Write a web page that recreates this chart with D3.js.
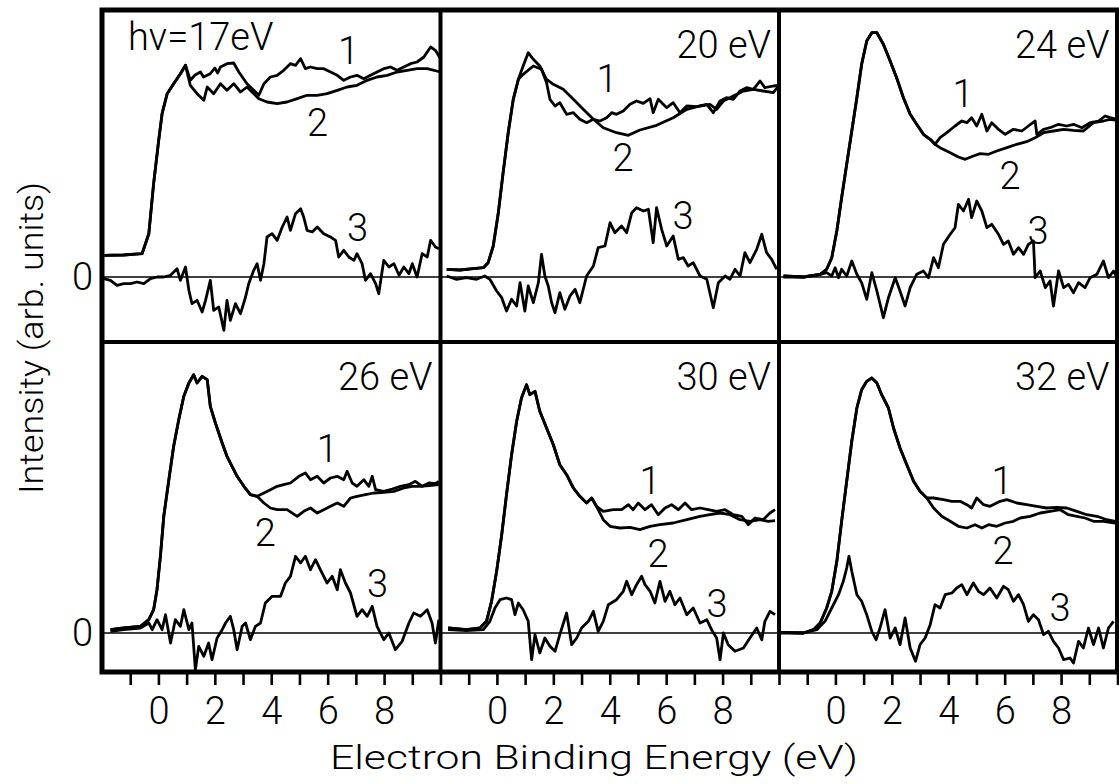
<!DOCTYPE html>
<html>
<head>
<meta charset="utf-8">
<script src="https://cdn.jsdelivr.net/npm/d3@7"></script>
<style>
  body { margin: 0; background: #fff; }
  svg text { font-family: Roboto, 'DejaVu Sans', sans-serif; font-weight: 300; fill: #000; }
</style>
</head>
<body>
<svg id="chart" width="1119" height="784"></svg>
<script>
// photon energies of the six panels
var panelTitles = ['h\u03bd=17eV', '20 eV', '24 eV', '26 eV', '30 eV', '32 eV'];

// x axis: electron binding energy (eV)
var tickEnergies = [-1, 0, 1, 2, 3, 4, 5, 6, 7, 8, 9, 10];
var tickLabels = [0, 2, 4, 6, 8];

// spectra: [binding energy, intensity], curve 1 / 2 share the onset part
var rise17 = [[-1.94,2.17],[-1.23,2.2],[-0.58,2.33],[-0.34,4.33],[-0.17,9.33],[0.01,13.67],[0.13,16.33],[0.31,18.33],[0.54,19.33],[0.78,20.33],[0.96,21.17]];
var s17_1 = rise17.concat([[1.13,19.67],[1.3,20.2],[1.49,20.5],[1.6,20.0],[1.84,20.33],[2.0,20.9],[2.1,20.4],[2.2,21.0],[2.43,21.33],[2.67,21.4],[2.85,20.5],[3.14,19.33],[3.38,18.67],[3.56,18.17],[3.74,19.33],[3.97,20.0],[4.21,20.17],[4.44,20.67],[4.68,21.33],[4.86,21.17],[5.04,21.83],[5.21,20.83],[5.39,21.0],[5.63,20.83],[5.86,20.83],[6.1,20.5],[6.34,20.17],[6.57,19.67],[6.81,20.0],[7.04,20.17],[7.28,19.83],[7.52,20.17],[7.75,20.5],[7.99,20.83],[8.23,21.0],[8.46,20.67],[8.7,21.0],[8.94,21.33],[9.17,21.5],[9.41,22.0],[9.65,23.0],[9.82,22.67],[10.0,21.83]]);
var s17_2 = rise17.concat([[1.13,19.17],[1.37,18.33],[1.61,17.67],[1.73,19.0],[1.96,18.33],[2.2,19.33],[2.43,18.67],[2.67,19.33],[2.91,18.5],[3.14,19.0],[3.38,18.33],[3.56,17.83],[3.85,17.5],[4.21,17.33],[4.56,17.5],[4.92,17.83],[5.27,18.17],[5.63,18.17],[5.98,18.33],[6.34,18.67],[6.69,19.0],[7.04,19.17],[7.4,19.67],[7.75,20.0],[8.11,20.17],[8.46,20.5],[8.82,20.67],[9.17,20.83],[9.53,20.83],[10.0,20.5]]);
var s17_3 = [[-1.94,-0.17],[-1.7,-0.33],[-1.47,-0.83],[-1.23,-0.67],[-0.99,-0.67],[-0.76,-0.5],[-0.52,-0.67],[-0.28,-0.17],[-0.05,0],[0.19,0],[0.43,0.17],[0.66,0.83],[0.78,-0.33],[0.96,1.0],[1.08,-1.33],[1.19,-2.67],[1.37,-2.33],[1.55,-3.5],[1.67,-2.33],[1.84,-0.33],[1.96,-3.33],[2.14,-3.0],[2.32,-5.33],[2.43,-2.33],[2.55,-4.33],[2.73,-2.67],[2.91,-3.67],[3.09,-2.0],[3.2,-0.67],[3.38,0.67],[3.5,1.33],[3.62,-0.33],[3.74,1.33],[3.85,4.0],[4.03,4.33],[4.21,3.67],[4.39,5.0],[4.56,6.0],[4.68,4.67],[4.86,6.33],[5.04,6.83],[5.15,6.0],[5.27,4.67],[5.45,4.5],[5.63,5.0],[5.86,4.33],[6.1,4.0],[6.28,3.67],[6.39,2.0],[6.57,2.67],[6.75,2.0],[6.93,1.67],[7.04,2.33],[7.22,1.33],[7.34,-0.33],[7.52,0.33],[7.7,-0.67],[7.81,-1.67],[7.99,1.67],[8.17,1.0],[8.35,1.33],[8.53,0.17],[8.7,1.0],[8.88,0.33],[9.0,1.33],[9.17,0],[9.35,2.33],[9.53,2.0],[9.65,3.67],[9.82,3.0],[9.94,2.83]];

var rise20 = [[-1.78,0.77],[-1.31,0.7],[-0.84,0.83],[-0.48,0.93],[-0.31,1.43],[-0.13,3.1],[0.05,6.43],[0.22,10.43],[0.4,14.43],[0.58,17.77],[0.76,19.77]];
var s20_1 = rise20.concat([[0.93,20.27],[1.29,21.1],[1.58,20.77],[1.76,19.43],[1.88,17.77],[2.06,17.1],[2.23,17.43],[2.47,16.27],[2.71,16.43],[2.94,15.77],[3.18,15.43],[3.42,15.77],[3.65,15.6],[3.89,15.93],[4.07,16.43],[4.24,16.27],[4.48,16.6],[4.72,17.27],[4.95,17.6],[5.19,17.37],[5.43,17.83],[5.54,16.43],[5.72,17.77],[6.02,16.93],[6.25,17.43],[6.49,16.43],[6.73,17.1],[7.08,17.03],[7.44,17.27],[7.67,16.43],[7.91,17.6],[8.14,17.93],[8.38,17.77],[8.62,18.6],[8.85,18.93],[9.09,18.77],[9.33,19.6],[9.5,18.93],[9.8,19.1],[9.98,19.17]]);
var s20_2 = rise20.concat([[0.93,21.1],[1.11,22.43],[1.29,21.77],[1.52,21.1],[1.76,19.77],[2.0,19.27],[2.35,18.77],[2.71,17.77],[3.06,16.77],[3.42,15.77],[3.77,14.93],[4.24,14.43],[4.66,14.17],[5.07,14.7],[5.66,15.17],[6.25,15.93],[6.73,16.77],[7.2,17.1],[7.55,17.27],[7.79,16.77],[8.03,17.6],[8.38,18.1],[8.74,18.6],[9.09,18.77],[9.44,18.6],[9.8,18.43],[9.98,19.1]]);
var s20_3 = [[-1.78,0.1],[-1.43,-0.23],[-1.08,-0.07],[-0.72,-0.23],[-0.43,0.1],[-0.25,-0.23],[-0.01,-1.4],[0.17,-2.07],[0.34,-3.4],[0.52,-2.23],[0.7,-2.9],[0.82,-0.57],[0.99,-3.4],[1.11,-0.9],[1.29,-2.57],[1.47,-0.57],[1.58,2.27],[1.7,0.1],[1.82,-0.9],[1.94,-2.57],[2.06,-3.57],[2.23,-1.57],[2.41,-3.23],[2.59,-1.9],[2.77,-1.23],[2.94,-2.57],[3.18,0.1],[3.42,1.1],[3.59,2.93],[3.83,3.1],[4.01,5.43],[4.18,4.43],[4.42,5.1],[4.6,4.43],[4.78,6.43],[4.95,6.93],[5.19,6.6],[5.37,6.77],[5.54,3.43],[5.66,6.93],[5.84,4.77],[6.02,3.1],[6.25,4.1],[6.43,1.77],[6.61,1.93],[6.78,1.1],[6.96,1.43],[7.2,0.1],[7.44,-0.23],[7.67,-3.07],[7.85,-0.57],[8.09,0.1],[8.26,-0.23],[8.44,0.77],[8.62,0.1],[8.79,2.43],[8.97,1.43],[9.21,2.77],[9.39,4.27],[9.56,2.43],[9.74,1.77],[9.92,0.77]];

var rise24 = [[-1.84,0.1],[-1.13,0],[-0.54,0.27],[-0.31,0.77],[-0.13,1.93],[0.05,4.6],[0.22,7.93],[0.4,11.27],[0.58,14.6],[0.76,17.93],[0.93,21.27],[1.11,23.6],[1.29,24.43],[1.47,24.43],[1.7,23.27],[1.94,21.6],[2.17,19.93],[2.41,17.93],[2.65,16.27],[2.88,15.27],[3.12,14.27],[3.36,13.77],[3.53,13.27]];
var s24_1 = rise24.concat([[3.71,13.93],[3.95,14.43],[4.24,15.1],[4.48,15.6],[4.66,15.43],[4.83,15.93],[5.01,15.1],[5.19,16.27],[5.37,14.6],[5.54,15.43],[5.78,14.77],[6.02,14.27],[6.31,14.77],[6.61,14.6],[6.84,15.1],[7.08,15.6],[7.14,14.27],[7.38,14.77],[7.61,14.93],[7.91,15.27],[8.2,15.1],[8.44,15.27],[8.74,14.93],[9.03,15.43],[9.33,15.6],[9.56,16.1],[9.74,15.93],[9.98,15.77]]);
var s24_2 = rise24.concat([[3.71,12.93],[4.07,12.43],[4.36,12.0],[4.6,11.77],[4.89,12.1],[5.13,12.33],[5.43,12.27],[5.72,12.6],[6.08,12.93],[6.43,13.27],[6.78,13.53],[7.08,13.93],[7.38,14.43],[7.73,14.6],[8.09,14.77],[8.44,14.67],[8.79,14.6],[9.15,15.43],[9.5,15.6],[9.74,15.77],[9.98,15.67]]);
var s24_3 = [[-1.84,0],[-1.13,0],[-0.54,0.27],[-0.31,0.43],[-0.13,0.1],[-0.01,0.93],[0.11,-0.07],[0.22,0.77],[0.4,0.1],[0.58,1.6],[0.76,0.27],[0.93,-0.57],[1.11,-2.23],[1.29,0.43],[1.47,-1.4],[1.7,-4.07],[1.88,-2.07],[2.12,-0.07],[2.29,-1.4],[2.47,-2.9],[2.65,-1.07],[2.88,0.27],[3.12,0.6],[3.3,-0.07],[3.48,1.93],[3.65,0.93],[3.83,3.27],[4.07,4.27],[4.24,4.93],[4.36,7.27],[4.54,6.6],[4.72,7.77],[4.83,5.93],[5.01,7.6],[5.19,6.6],[5.37,4.93],[5.54,5.27],[5.78,4.27],[5.96,3.27],[6.13,3.6],[6.31,2.27],[6.49,2.93],[6.67,2.27],[6.84,3.27],[7.02,3.6],[7.08,-0.07],[7.26,0.6],[7.44,-1.07],[7.61,-0.4],[7.73,-2.9],[7.91,0.6],[8.09,-1.07],[8.26,-0.73],[8.44,-1.57],[8.62,-0.57],[8.85,-1.07],[9.03,-0.07],[9.27,0.27],[9.5,1.6],[9.68,-0.07],[9.86,0.6],[9.98,-0.07]];

var rise26 = [[-1.7,0.33],[-1.23,0.5],[-0.64,0.67],[-0.34,1.33],[-0.17,2.33],[-0.05,4.33],[0.07,7.67],[0.19,11.67],[0.37,15.33],[0.54,18.67],[0.72,21.33],[0.9,23.67],[1.08,25.0],[1.25,25.83],[1.37,25.0],[1.55,25.67],[1.73,25.33],[1.84,22.67],[2.02,21.0],[2.26,19.0],[2.43,17.67],[2.61,16.67],[2.79,15.67],[3.03,14.67],[3.26,13.83],[3.5,13.67]];
var s26_1 = rise26.concat([[3.74,14.0],[3.97,14.33],[4.21,14.67],[4.44,14.83],[4.68,15.0],[4.98,15.67],[5.21,16.0],[5.39,15.33],[5.63,15.67],[5.86,15.0],[6.1,15.5],[6.34,15.67],[6.57,15.33],[6.69,16.17],[6.87,15.0],[7.04,14.67],[7.28,15.33],[7.46,14.67],[7.58,15.67],[7.7,14.33],[7.99,14.17],[8.29,14.4],[8.58,14.67],[8.88,14.83],[9.11,15.17],[9.35,14.67],[9.59,15.0],[9.82,14.93],[9.94,15.17]]);
var s26_2 = rise26.concat([[3.74,13.0],[3.97,12.5],[4.21,12.33],[4.56,12.33],[4.92,11.67],[5.15,12.17],[5.39,12.5],[5.63,12.0],[5.86,12.33],[6.1,12.67],[6.34,13.0],[6.57,12.67],[6.81,13.5],[7.04,13.67],[7.34,13.83],[7.64,14.0],[7.99,14.07],[8.35,14.17],[8.7,14.5],[9.0,14.67],[9.29,14.67],[9.59,14.73],[9.94,14.83]]);
var s26_3 = [[-1.7,0.17],[-1.23,0.33],[-0.64,0.5],[-0.34,1.0],[-0.22,0.33],[-0.05,1.33],[0.13,0.33],[0.25,1.83],[0.43,-1.0],[0.6,1.33],[0.78,0.67],[0.9,2.33],[1.08,0.33],[1.19,1.0],[1.31,-3.67],[1.43,-1.33],[1.61,-2.33],[1.78,-1.0],[1.9,-2.67],[2.08,-0.5],[2.26,0.33],[2.38,1.0],[2.55,1.67],[2.67,0.33],[2.79,-1.67],[2.97,0.67],[3.09,1.0],[3.26,-0.67],[3.44,0.67],[3.62,1.0],[3.79,3.0],[4.03,3.67],[4.33,3.67],[4.5,5.0],[4.68,5.67],[4.86,7.67],[5.04,7.0],[5.21,7.67],[5.39,6.33],[5.57,7.33],[5.74,6.33],[5.98,5.0],[6.16,5.67],[6.34,4.33],[6.45,6.33],[6.63,5.0],[6.81,4.0],[7.04,1.67],[7.22,2.33],[7.4,1.67],[7.58,2.67],[7.75,0.67],[7.99,-0.67],[8.17,0],[8.4,-1.67],[8.64,-0.83],[8.88,1.0],[9.05,2.0],[9.29,1.67],[9.53,2.33],[9.7,1.0],[9.82,-1.0],[9.94,1.33]];

var rise30 = [[-1.73,0.5],[-1.08,0.33],[-0.6,0.5],[-0.37,1.17],[-0.19,3.17],[-0.01,6.17],[0.17,9.83],[0.34,13.83],[0.52,17.83],[0.7,21.17],[0.87,23.5],[1.05,24.83],[1.17,23.83],[1.35,24.17],[1.52,22.17],[1.76,20.5],[2.0,18.83],[2.23,16.83],[2.47,15.83],[2.71,14.5],[2.94,13.67],[3.18,13.0],[3.36,13.5],[3.53,12.67]];
var s30_1 = rise30.concat([[3.77,12.17],[4.13,12.33],[4.42,12.33],[4.66,12.83],[4.83,12.33],[5.01,13.0],[5.25,12.33],[5.48,12.83],[5.72,11.83],[5.96,12.5],[6.19,12.83],[6.43,12.33],[6.67,13.0],[6.9,12.33],[7.2,12.5],[7.49,12.33],[7.79,12.17],[8.09,12.33],[8.38,11.83],[8.68,11.67],[8.91,10.83],[9.15,11.5],[9.44,11.33],[9.68,12.0],[9.86,12.33]]);
var s30_2 = rise30.concat([[3.77,11.33],[4.01,10.67],[4.36,10.5],[4.72,10.57],[5.07,10.33],[5.43,10.67],[5.78,10.83],[6.25,11.0],[6.73,11.33],[7.2,11.67],[7.55,11.83],[7.91,12.0],[8.26,11.83],[8.62,11.33],[8.97,11.17],[9.33,11.33],[9.62,11.17],[9.86,11.23]]);
var s30_3 = [[-1.73,0.33],[-1.08,0.23],[-0.48,0.33],[-0.25,1.17],[-0.07,2.5],[0.11,3.33],[0.34,3.5],[0.52,3.33],[0.64,1.83],[0.76,3.0],[0.93,2.33],[1.11,1.17],[1.23,-2.67],[1.35,-0.17],[1.52,-2.0],[1.7,-0.5],[1.88,-1.33],[2.06,-1.83],[2.23,-0.17],[2.47,2.0],[2.65,-1.17],[2.83,-0.5],[3.0,0.5],[3.24,1.17],[3.42,2.17],[3.59,0.17],[3.77,1.17],[3.95,2.83],[4.24,3.33],[4.48,4.17],[4.6,5.17],[4.78,3.83],[4.95,4.83],[5.13,5.67],[5.25,4.83],[5.43,4.17],[5.6,3.0],[5.78,5.17],[5.96,3.17],[6.13,4.17],[6.31,2.83],[6.49,3.5],[6.73,1.83],[6.96,2.5],[7.2,1.0],[7.44,1.33],[7.61,0.33],[7.79,-0.5],[7.91,-2.67],[8.03,0],[8.2,-1.17],[8.44,-1.83],[8.74,-1.5],[8.97,-0.5],[9.21,0.5],[9.39,-0.67],[9.5,1.17],[9.68,2.17],[9.86,1.83]];

var rise32 = [[-1.96,0.07],[-1.13,0],[-0.78,0.33],[-0.54,1.0],[-0.31,2.5],[-0.13,4.17],[0.05,7.17],[0.22,11.17],[0.4,15.17],[0.58,19.17],[0.76,22.5],[0.93,24.33],[1.11,25.17],[1.29,25.5],[1.47,25.0],[1.64,23.83],[1.88,22.5],[2.06,20.5],[2.29,18.5],[2.53,16.83],[2.77,15.17],[3.0,14.17],[3.24,13.5]];
var s32_1 = rise32.concat([[3.48,13.5],[3.83,13.33],[4.13,13.17],[4.42,13.17],[4.66,12.83],[4.83,12.5],[5.01,13.5],[5.25,12.83],[5.48,12.67],[5.84,13.17],[6.08,13.33],[6.43,13.0],[6.78,12.83],[7.14,12.67],[7.49,12.5],[7.85,12.57],[8.2,12.5],[8.56,12.17],[8.91,11.83],[9.27,11.67],[9.62,11.33],[9.92,11.17]]);
var s32_2 = rise32.concat([[3.48,12.5],[3.77,11.67],[4.07,11.17],[4.36,10.67],[4.66,10.5],[4.95,10.83],[5.19,10.5],[5.43,10.83],[5.72,10.67],[6.02,11.0],[6.31,11.17],[6.55,11.5],[6.9,11.67],[7.26,12.0],[7.61,12.17],[7.97,12.33],[8.26,11.83],[8.56,11.67],[8.85,11.5],[9.15,11.17],[9.5,11.17],[9.92,11.0]]);
var s32_3 = [[-1.96,0],[-1.13,0],[-0.66,0.33],[-0.37,1.17],[-0.13,2.5],[0.11,3.83],[0.28,5.17],[0.4,6.5],[0.48,7.67],[0.58,6.17],[0.76,3.83],[0.93,3.17],[1.11,1.83],[1.29,0.17],[1.44,-0.67],[1.58,0.5],[1.76,2.33],[1.94,-0.5],[2.12,0.5],[2.29,-1.17],[2.47,1.5],[2.65,-1.5],[2.84,-2.83],[3.0,-1.17],[3.18,-0.5],[3.36,0.83],[3.53,2.83],[3.71,2.5],[3.89,3.83],[4.13,4.0],[4.3,4.5],[4.48,4.83],[4.66,3.83],[4.89,5.0],[5.07,4.17],[5.25,3.83],[5.48,4.5],[5.72,3.5],[5.96,4.67],[6.13,4.33],[6.31,3.17],[6.49,3.83],[6.67,2.83],[6.84,1.17],[7.02,1.83],[7.2,1.33],[7.38,-0.17],[7.55,0.17],[7.73,-0.83],[7.91,-1.5],[8.09,-2.67],[8.32,-2.5],[8.44,-3.0],[8.62,-0.83],[8.79,-1.5],[8.97,0.5],[9.15,-1.17],[9.33,0.5],[9.5,-1.5],[9.68,0.5],[9.86,1.17]];

// where the curve numbers 1, 2, 3 sit in each panel (energy, intensity)
var curveLabelAt = [
    [[6.74,22.7],[5.64,15.5],[7.06,5.0]],
    [[3.90,19.9],[4.47,12.0],[6.60,6.2]],
    [[4.52,18.4],[6.19,10.2],[7.18,4.7]],
    [[5.99,18.5],[3.79,10.1],[7.77,5.0]],
    [[5.43,15.3],[5.71,8.0],[7.80,3.0]],
    [[5.91,15.3],[5.94,8.3],[7.96,2.6]]
];

var curves = [
    [s17_1, s17_2, s17_3],
    [s20_1, s20_2, s20_3],
    [s24_1, s24_2, s24_3],
    [s26_1, s26_2, s26_3],
    [s30_1, s30_2, s30_3],
    [s32_1, s32_2, s32_3]
];

var colEdges = [102, 440.5, 779, 1117.5];
var rowEdges = [10, 342, 672];

var svg = d3.select('#chart');
svg.append('rect').attr('width', 1119).attr('height', 784).attr('fill', '#fff');

var xs = [0, 1, 2].map(function (c) {
    return d3.scaleLinear().domain([-2, 10]).range([colEdges[c], colEdges[c + 1]]);
});
var ys = [
    d3.scaleLinear().domain([-6.5, 26.7]).range([rowEdges[1], rowEdges[0]]),
    d3.scaleLinear().domain([-3.9, 29.1]).range([rowEdges[2], rowEdges[1]])
];

panelTitles.forEach(function (title, i) {
    var row = Math.floor(i / 3), col = i % 3;
    var x = xs[col], y = ys[row];
    var g = svg.append('g');

    // zero line
    g.append('line')
        .attr('x1', x(-2)).attr('x2', x(10))
        .attr('y1', y(0)).attr('y2', y(0))
        .attr('stroke', '#000').attr('stroke-width', 1.6);

    var line = d3.line()
        .x(function (d) { return x(d[0]); })
        .y(function (d) { return y(d[1]); });

    curves[i].forEach(function (c) {
        g.append('path')
            .attr('d', line(c))
            .attr('fill', 'none')
            .attr('stroke', '#000')
            .attr('stroke-width', 2.8)
            .attr('stroke-linejoin', 'round');
    });

    curveLabelAt[i].forEach(function (p, k) {
        g.append('text')
            .attr('x', x(p[0])).attr('y', y(p[1]))
            .attr('dy', '0.36em')
            .attr('text-anchor', 'middle')
            .style('font-size', '38px')
            .text(k + 1);
    });

    var top = rowEdges[row];
    if (i === 0) {
        g.append('text')
            .attr('x', colEdges[col] + 26).attr('y', top + 40)
            .attr('text-anchor', 'start')
            .style('font-size', '38px')
            .text(title);
    } else {
        g.append('text')
            .attr('x', colEdges[col + 1] - 8).attr('y', top + 48)
            .attr('text-anchor', 'end')
            .style('font-size', '38px')
            .text(title);
    }
});

// frame
svg.append('rect')
    .attr('x', colEdges[0]).attr('y', rowEdges[0])
    .attr('width', colEdges[3] - colEdges[0]).attr('height', rowEdges[2] - rowEdges[0])
    .attr('fill', 'none').attr('stroke', '#000').attr('stroke-width', 5);
[colEdges[1], colEdges[2]].forEach(function (cx) {
    svg.append('line').attr('x1', cx).attr('x2', cx).attr('y1', rowEdges[0]).attr('y2', rowEdges[2])
        .attr('stroke', '#000').attr('stroke-width', 4);
});
svg.append('line').attr('x1', colEdges[0]).attr('x2', colEdges[3]).attr('y1', rowEdges[1]).attr('y2', rowEdges[1])
    .attr('stroke', '#000').attr('stroke-width', 4);

// x axes, one per column
xs.forEach(function (x) {
    var axis = d3.axisBottom(x)
        .tickValues(tickEnergies)
        .tickSize(11)
        .tickPadding(12)
        .tickFormat(function (d) { return tickLabels.indexOf(d) >= 0 ? d : ''; });
    var ag = svg.append('g').attr('transform', 'translate(0,674)').call(axis);
    ag.select('.domain').remove();
    ag.selectAll('line').attr('stroke-width', 2.6);
    ag.selectAll('text').style('font-size', '38px');
});

// y axes: only the zero of each row
ys.forEach(function (y) {
    var ag = svg.append('g').attr('transform', 'translate(' + colEdges[0] + ',0)')
        .call(d3.axisLeft(y).tickValues([0]).tickSize(0).tickPadding(9));
    ag.select('.domain').remove();
    ag.selectAll('text').style('font-size', '38px');
});

svg.append('text')
    .attr('x', 594).attr('y', 769)
    .attr('text-anchor', 'middle')
    .attr('textLength', 528).attr('lengthAdjust', 'spacingAndGlyphs')
    .style('font-size', '34px')
    .text('Electron Binding Energy (eV)');

svg.append('text')
    .attr('transform', 'translate(43,338) rotate(-90)')
    .attr('text-anchor', 'middle')
    .attr('textLength', 312).attr('lengthAdjust', 'spacingAndGlyphs')
    .style('font-size', '34px')
    .text('Intensity (arb. units)');
</script>
</body>
</html>
